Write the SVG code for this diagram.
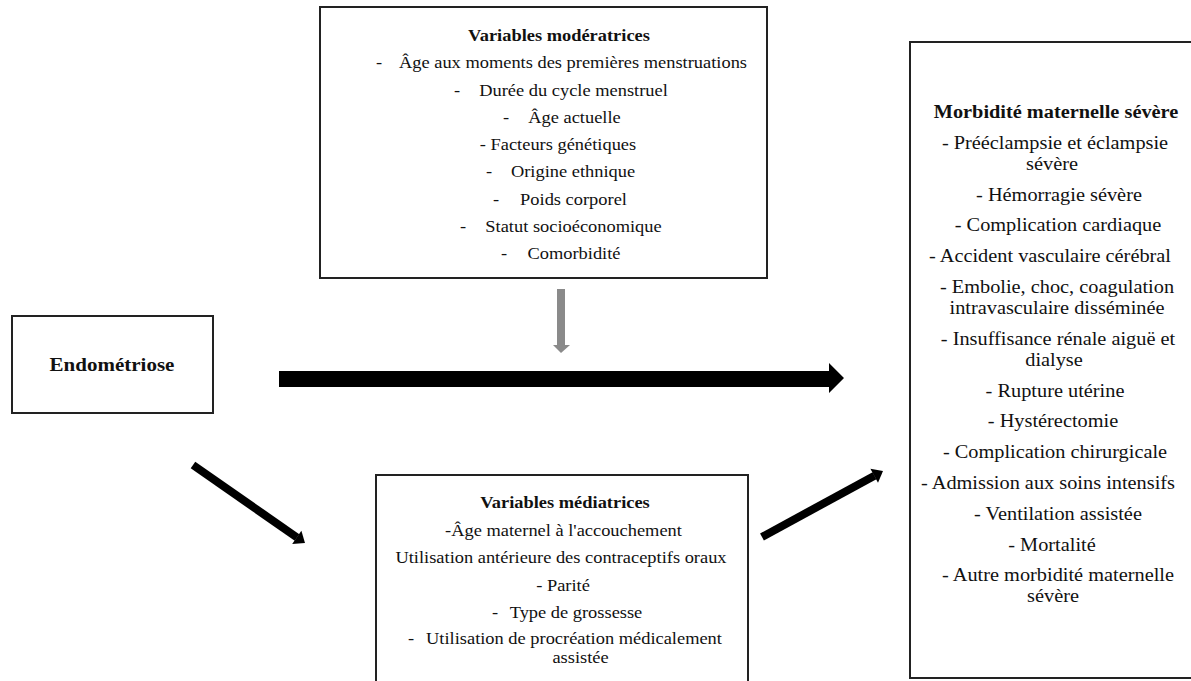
<svg xmlns="http://www.w3.org/2000/svg" width="1191" height="681" viewBox="0 0 1191 681">
<style>
.box{fill:#fff;stroke:#222;stroke-width:2}
text{font-family:"Liberation Serif","Times New Roman",serif;fill:#111;text-anchor:middle}
.m{font-size:16.3px}
.r{font-size:18px}
.b{font-weight:bold}
.e{font-size:18.6px;font-weight:bold}
.ar{fill:#000}
.gr{fill:#8a8a8a}
.sh{stroke:#000;stroke-width:8;fill:none}
</style>
<rect width="1191" height="681" fill="#fff"/>
<g id="connectors">
<polygon class="ar" points="279,371 829,371 829,363 844,378 829,393 829,387 279,387"/>
<polygon class="gr" points="557,289 565,289 565,345 570,345 561,353 553,345 557,345"/>
<line class="sh" x1="193" y1="465" x2="297" y2="537.5"/>
<polygon class="ar" points="305,543 292.2,543.9 301.4,530.7"/>
<line class="sh" x1="762" y1="537" x2="874.5" y2="475.7"/>
<polygon class="ar" points="883,471 878,482.8 870.4,468.8"/>
</g>
<g id="endometriose">
<rect class="box" x="12" y="316" width="201" height="97"/>
<text class="e" transform="translate(112,371) scale(1.13,1)">Endométriose</text>
</g>
<g id="moderatrices">
<rect class="box" x="320" y="7" width="447" height="271"/>
<text class="m b" transform="translate(559,41) scale(1.13,1)">Variables  modératrices</text>
<text class="m" transform="translate(379,68) scale(1.13,1)">-</text>
<text class="m" transform="translate(573,68) scale(1.13,1)">Âge aux moments des premières menstruations</text>
<text class="m" transform="translate(457,95.5) scale(1.13,1)">-</text>
<text class="m" transform="translate(573.5,95.5) scale(1.13,1)">Durée du cycle menstruel</text>
<text class="m" transform="translate(506,122.5) scale(1.13,1)">-</text>
<text class="m" transform="translate(574.5,122.5) scale(1.13,1)">Âge actuelle</text>
<text class="m" transform="translate(558,150) scale(1.13,1)">- Facteurs génétiques</text>
<text class="m" transform="translate(489,177) scale(1.13,1)">-</text>
<text class="m" transform="translate(573,177) scale(1.13,1)">Origine ethnique</text>
<text class="m" transform="translate(496,204.5) scale(1.13,1)">-</text>
<text class="m" transform="translate(573.5,204.5) scale(1.13,1)">Poids corporel</text>
<text class="m" transform="translate(463,231.5) scale(1.13,1)">-</text>
<text class="m" transform="translate(573.5,231.5) scale(1.13,1)">Statut socioéconomique</text>
<text class="m" transform="translate(504,259) scale(1.13,1)">-</text>
<text class="m" transform="translate(574,259) scale(1.13,1)">Comorbidité</text>
</g>
<g id="mediatrices">
<rect class="box" x="376" y="475" width="372" height="215"/>
<text class="m b" transform="translate(565,507.5) scale(1.13,1)">Variables  médiatrices</text>
<text class="m" transform="translate(563.5,535.5) scale(1.13,1)">-Âge maternel à l'accouchement</text>
<text class="m" transform="translate(561,562.5) scale(1.13,1)">Utilisation  antérieure des contraceptifs oraux</text>
<text class="m" transform="translate(563,590.5) scale(1.13,1)">- Parité</text>
<text class="m" transform="translate(495,617.5) scale(1.13,1)">-</text>
<text class="m" transform="translate(576,617.5) scale(1.13,1)">Type de grossesse</text>
<text class="m" transform="translate(411,643.5) scale(1.13,1)">-</text>
<text class="m" transform="translate(574,643.5) scale(1.13,1)">Utilisation de procréation médicalement</text>
<text class="m" transform="translate(580.5,663) scale(1.13,1)">assistée</text>
</g>
<g id="morbidite">
<rect class="box" x="910" y="42" width="290" height="636"/>
<text class="r b" transform="translate(1056,118) scale(1.13,1)">Morbidité maternelle sévère</text>
<text class="r" transform="translate(1055,148.8) scale(1.13,1)">- Prééclampsie et éclampsie</text>
<text class="r" transform="translate(1052,169.8) scale(1.13,1)">sévère</text>
<text class="r" transform="translate(1059,200.6) scale(1.13,1)">- Hémorragie sévère</text>
<text class="r" transform="translate(1058,231.4) scale(1.13,1)">- Complication cardiaque</text>
<text class="r" transform="translate(1050,262.2) scale(1.13,1)">- Accident vasculaire cérébral</text>
<text class="r" transform="translate(1057,293) scale(1.13,1)">- Embolie, choc, coagulation</text>
<text class="r" transform="translate(1057,314) scale(1.13,1)">intravasculaire disséminée</text>
<text class="r" transform="translate(1058,344.8) scale(1.13,1)">- Insuffisance rénale aiguë et</text>
<text class="r" transform="translate(1054,365.8) scale(1.13,1)">dialyse</text>
<text class="r" transform="translate(1055,396.6) scale(1.13,1)">- Rupture utérine</text>
<text class="r" transform="translate(1053,427.4) scale(1.13,1)">- Hystérectomie</text>
<text class="r" transform="translate(1055,458.2) scale(1.13,1)">- Complication chirurgicale</text>
<text class="r" transform="translate(1048,489) scale(1.13,1)">- Admission  aux soins intensifs</text>
<text class="r" transform="translate(1058,519.8) scale(1.13,1)">- Ventilation assistée</text>
<text class="r" transform="translate(1052,550.6) scale(1.13,1)">- Mortalité</text>
<text class="r" transform="translate(1058,581.4) scale(1.13,1)">- Autre morbidité maternelle</text>
<text class="r" transform="translate(1053,602.4) scale(1.13,1)">sévère</text>
</g>
</svg>
